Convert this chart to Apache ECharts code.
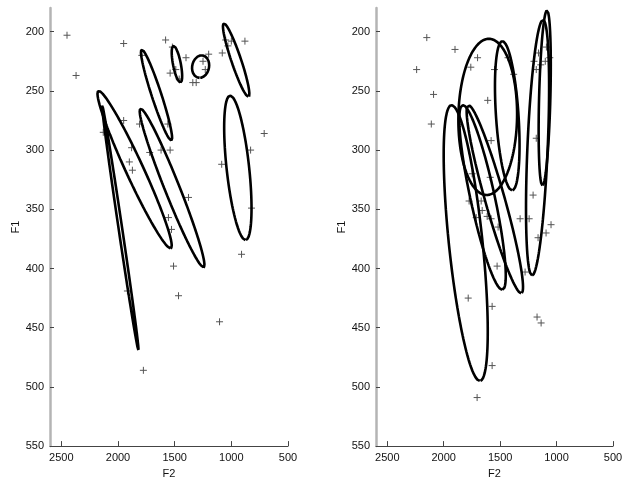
<!DOCTYPE html>
<html>
<head>
<meta charset="utf-8">
<script src="https://cdn.jsdelivr.net/npm/echarts@6/dist/echarts.min.js"></script>
<style>html,body{margin:0;padding:0;background:#fff;}#c{width:628px;height:484px;}</style>
</head>
<body>
<div id="c"></div>
<script>
// ---- data (F2, F1) ----
const xTicks = [500, 1000, 1500, 2000, 2500];
const yTicks = [200, 250, 300, 350, 400, 450, 500, 550];

const leftPoints = [
  [2450,203],[2370,237],[1950,210],[1790,220],[1580,207],[1520,213],[1540,235],
  [1490,232],[1460,240],[1400,222],[1340,243],[1310,243],[1250,225],[1230,232],
  [1200,219],[1080,218],[1050,207],[1030,212],[1000,208],[880,208],[710,286],
  [830,300],[1085,312],[1810,278],[1560,278],[1540,300],[1620,300],[1950,275],
  [1880,298],[1900,310],[1873,317],[2130,285],[1720,302],
  [1378,340],[1555,357],[1528,367],[1510,398],[1466,423],[1104,445],[910,388],
  [822,349],[1776,486],[1917,419]
];
const rightPoints = [
  [2240,232],[2150,205],[2090,253],[2110,278],[1900,215],[1760,230],[1700,222],
  [1550,232],[1610,258],[1580,292],[1430,222],[1380,236],[1200,225],[1180,232],
  [1160,218],[1140,228],[1100,225],[1060,222],[1090,213],[1180,290],
  [1748,320],[1588,323],[1775,343],[1668,343],[1659,351],[1712,357],[1615,356],
  [1580,358],[1518,365],[1323,358],[1243,358],[1208,338],[1049,363],[1093,370],
  [1164,374],[1527,398],[1279,403],[1783,425],[1571,432],[1173,441],[1137,446],
  [1571,482],[1704,509]
];

// ellipses: top tip, bottom tip (F2, F1), horizontal half-width at centre (F2 units)
const leftEllTop    = [[2140,262],[2170,250],[1800,265],[1790,215],[1510,212],[1262,220],[1065,193],[1010,254]];
const leftEllBottom = [[1820,469],[1537,383],[1246,399],[1530,292],[1450,243],[1280,239],[850,255],[875,376]];
const leftEllHalfW  = [16, 85, 70, 45, 35, 75, 45, 100];

const rightEllTop    = [[1930,262],[1830,262],[1780,262],[1120,190],[1600,206],[1480,208],[1085,182]];
const rightEllBottom = [[1680,495],[1482,418],[1314,421],[1217,406],[1620,338],[1394,334],[1125,330]];
const rightEllHalfW  = [150, 110, 90, 90, 260, 100, 50];

function outline(top, bot, w) {
  const cx = (top[0] + bot[0]) / 2, cy = (top[1] + bot[1]) / 2;
  const ux = bot[0] - cx, uy = bot[1] - cy;
  const pts = [];
  const N = 180;
  for (let k = 0; k <= N; k++) {
    const t = 2 * Math.PI * k / N;
    pts.push([cx + ux * Math.cos(t) + w * Math.sin(t), cy + uy * Math.cos(t)]);
  }
  return pts;
}

const plusPath = 'path://M0,5L10,5M5,0L5,10';
const fontFam = 'Liberation Sans, Arial, sans-serif';
const plain = v => String(v);

function xAxis(i) {
  return {
    gridIndex: i, type: 'value', inverse: true, min: 500, max: 2600,
    name: 'F2', nameLocation: 'middle', nameGap: 20,
    nameTextStyle: { fontSize: 11, color: '#111', fontFamily: fontFam },
    axisLine: { onZero: false, lineStyle: { color: '#444', width: 1 } },
    axisTick: { inside: true, length: 5, customValues: xTicks, lineStyle: { color: '#444' } },
    axisLabel: { customValues: xTicks, formatter: plain, fontSize: 11, color: '#111', margin: 6, fontFamily: fontFam },
    splitLine: { show: false }
  };
}
function yAxis(i) {
  return {
    gridIndex: i, type: 'value', inverse: true, min: 180, max: 550,
    name: 'F1', nameLocation: 'middle', nameGap: 28, nameRotate: 90,
    nameTextStyle: { fontSize: 11, color: '#111', fontFamily: fontFam },
    axisLine: { onZero: false, lineStyle: { color: '#b4b4b4', width: 2.5 } },
    axisTick: { inside: true, length: 4, customValues: yTicks, lineStyle: { color: '#444' } },
    axisLabel: { customValues: yTicks, formatter: plain, fontSize: 11, color: '#111', margin: 6, fontFamily: fontFam },
    splitLine: { show: false }
  };
}

const series = [];
function addPanel(idx, pts, tops, bots, ws) {
  series.push({
    type: 'scatter', xAxisIndex: idx, yAxisIndex: idx, data: pts,
    symbol: plusPath, symbolSize: 7,
    itemStyle: { color: 'none', borderColor: '#555', borderWidth: 1, opacity: 1 },
    z: 2, silent: true
  });
  for (let i = 0; i < tops.length; i++) {
    series.push({
      type: 'line', xAxisIndex: idx, yAxisIndex: idx, data: outline(tops[i], bots[i], ws[i]),
      showSymbol: false, smooth: false, silent: true,
      lineStyle: { color: '#000', width: 2.6 }, z: 3
    });
  }
}
addPanel(0, leftPoints, leftEllTop, leftEllBottom, leftEllHalfW);
addPanel(1, rightPoints, rightEllTop, rightEllBottom, rightEllHalfW);

const chart = echarts.init(document.getElementById('c'), null, { renderer: 'canvas' });
chart.setOption({
  animation: false,
  backgroundColor: '#fff',
  grid: [
    { left: 50, width: 238, top: 8, height: 444 },
    { left: 376, width: 237, top: 8, height: 444 }
  ],
  xAxis: [xAxis(0), xAxis(1)],
  yAxis: [yAxis(0), yAxis(1)],
  series: series
});
</script>
</body>
</html>
